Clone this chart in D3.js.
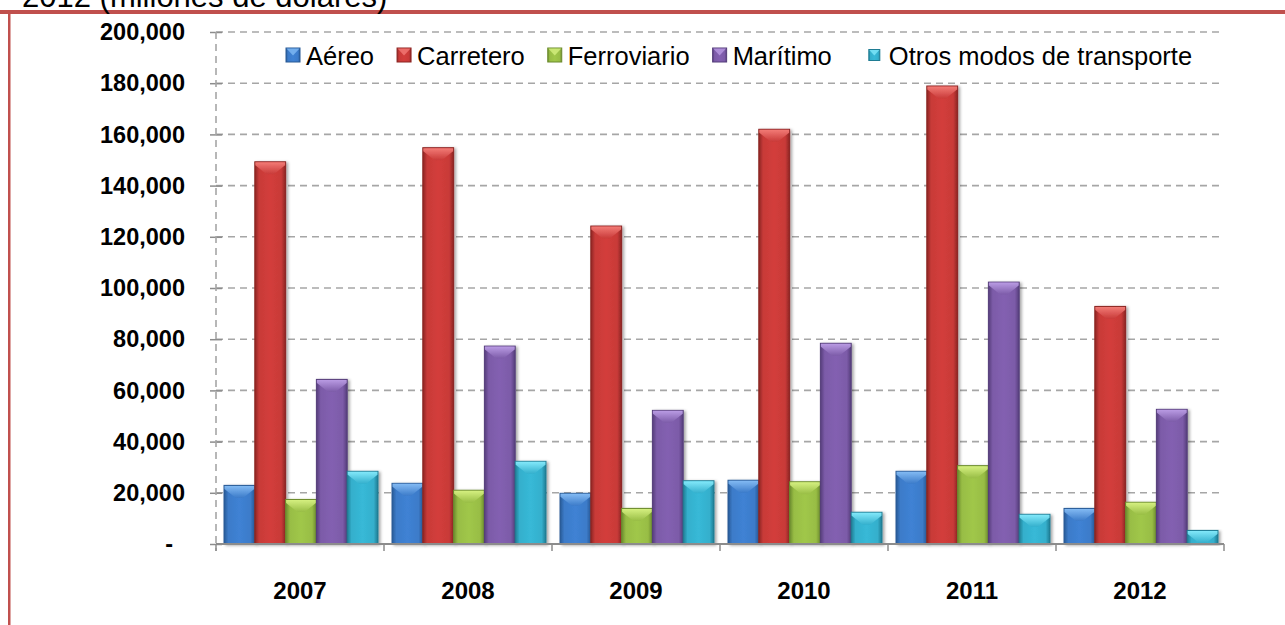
<!DOCTYPE html>
<html>
<head>
<meta charset="utf-8">
<script src="https://cdn.jsdelivr.net/npm/d3@7"></script>
<style>
    body { margin: 0; background: #fff; }
    svg { display: block; font-family: Arial, "Liberation Sans", sans-serif; }
</style>
</head>
<body>
<script>
(function() {

    // data (millones de dólares)
    var years = ["2007", "2008", "2009", "2010", "2011", "2012"];
    var modos = ["Aéreo", "Carretero", "Ferroviario", "Marítimo", "Otros modos de transporte"];
    var aereo = [22900, 23700, 19800, 24900, 28400, 13900];
    var carretero = [149300, 154800, 124200, 162000, 178900, 92800];
    var ferroviario = [17400, 21000, 13900, 24300, 30600, 16300];
    var maritimo = [64300, 77300, 52200, 78400, 102300, 52600];
    var otros = [28400, 32300, 24700, 12400, 11600, 5300];
    var yTicks = [0, 20000, 40000, 60000, 80000, 100000, 120000, 140000, 160000, 180000, 200000];

    var series = [aereo, carretero, ferroviario, maritimo, otros];

    // base / light / dark shade per series
    var colorBase = ["#3C7BC9", "#C83A38", "#98BD45", "#7C5BA8", "#34AFCC"];
    var colorLight = ["#86BDF5", "#F47E79", "#D8F283", "#BC9EE6", "#86EBFC"];
    var colorDark = ["#285A96", "#8C2523", "#6B8A2C", "#553D7A", "#1F7C93"];

    var width = 1285,
        height = 625,
        left = 216,
        top = 32,
        plotWidth = 1008,
        plotHeight = 512;

    var svg = d3.select("body")
        .append("svg")
        .attr("width", width)
        .attr("height", height);

    var defs = svg.append("defs");

    colorBase.forEach(function(c, i) {
        var g = defs.append("linearGradient")
            .attr("id", "grad" + i)
            .attr("x1", "0").attr("x2", "1").attr("y1", "0").attr("y2", "0");
        g.append("stop").attr("offset", "0%").attr("stop-color", colorDark[i]);
        g.append("stop").attr("offset", "14%").attr("stop-color", c);
        g.append("stop").attr("offset", "50%").attr("stop-color", d3.color(c).brighter(0.15));
        g.append("stop").attr("offset", "86%").attr("stop-color", c);
        g.append("stop").attr("offset", "100%").attr("stop-color", colorDark[i]);

        var t = defs.append("linearGradient")
            .attr("id", "top" + i)
            .attr("x1", "0").attr("x2", "0").attr("y1", "0").attr("y2", "1");
        t.append("stop").attr("offset", "0%").attr("stop-color", colorLight[i]);
        t.append("stop").attr("offset", "100%").attr("stop-color", c);
    });

    var shadow = defs.append("filter")
        .attr("id", "shadow")
        .attr("x", "-20%").attr("y", "-5%")
        .attr("width", "150%").attr("height", "115%");
    shadow.append("feDropShadow")
        .attr("dx", 2).attr("dy", 1)
        .attr("stdDeviation", 1.6)
        .attr("flood-color", "#000")
        .attr("flood-opacity", 0.35);

    // red frame
    svg.append("rect")
        .attr("x", 0).attr("y", 10)
        .attr("width", width).attr("height", 4)
        .attr("fill", "#C0504D");
    svg.append("rect")
        .attr("x", 8).attr("y", 10)
        .attr("width", 2.5).attr("height", height - 10)
        .attr("fill", "#C0504D");

    // title, cut by the top edge as in the source
    svg.append("text")
        .attr("x", 22)
        .attr("y", 7)
        .attr("font-size", "31px")
        .attr("fill", "#000")
        .text("2012 (millones de dólares)");

    var x0 = d3.scaleBand()
        .domain(years)
        .range([left, left + plotWidth]);

    var x1 = d3.scaleBand()
        .domain(d3.range(modos.length))
        .range([8, x0.bandwidth() - 6]);

    var y = d3.scaleLinear()
        .domain([0, 200000])
        .range([top + plotHeight, top]);

    // gridlines
    svg.append("g")
        .selectAll("line")
        .data(yTicks.filter(function(d) { return d > 0; }))
        .enter()
        .append("line")
        .attr("x1", left)
        .attr("x2", left + plotWidth)
        .attr("y1", function(d) { return y(d); })
        .attr("y2", function(d) { return y(d); })
        .attr("stroke", "#A6A6A6")
        .attr("stroke-width", 1.6)
        .attr("stroke-dasharray", "7,5");

    // y axis
    var yAxis = svg.append("g")
        .attr("transform", "translate(" + left + ",0)")
        .call(d3.axisLeft(y)
            .tickValues(yTicks)
            .tickSize(0)
            .tickPadding(31)
            .tickFormat(function(d) { return d === 0 ? "-" : d3.format(",")(d); }));
    yAxis.select(".domain").remove();
    yAxis.selectAll("text")
        .attr("font-family", "Arial, 'Liberation Sans', sans-serif")
        .attr("font-size", "23.5px")
        .attr("font-weight", "bold")
        .attr("fill", "#000")
        .attr("dy", "0.33em")
        .attr("dx", function(d) { return d === 0 ? -12 : 0; });
    yAxis.selectAll(".tick")
        .append("line")
        .attr("x1", -6).attr("x2", 6)
        .attr("stroke", "#8C8C8C")
        .attr("stroke-width", 1.5);
    svg.append("line")
        .attr("x1", left).attr("x2", left)
        .attr("y1", top).attr("y2", top + plotHeight + 7)
        .attr("stroke", "#A6A6A6")
        .attr("stroke-width", 1.6)
        .attr("stroke-dasharray", "7,5");

    // bars
    var groups = svg.append("g")
        .selectAll("g")
        .data(years)
        .enter()
        .append("g")
        .attr("transform", function(d) { return "translate(" + x0(d) + ",0)"; });

    var bars = groups.selectAll("g")
        .data(function(d, yi) {
            return series.map(function(s, si) { return { si: si, value: s[yi] }; });
        })
        .enter()
        .append("g")
        .attr("filter", "url(#shadow)");

    bars.append("rect")
        .attr("x", function(d) { return x1(d.si); })
        .attr("y", function(d) { return y(d.value); })
        .attr("width", x1.bandwidth())
        .attr("height", function(d) { return y(0) - y(d.value); })
        .attr("fill", function(d) { return "url(#grad" + d.si + ")"; })
        .attr("stroke", function(d) { return colorDark[d.si]; })
        .attr("stroke-width", 1);

    // chevron bevel on top of each bar
    bars.append("path")
        .attr("d", function(d) {
            var bx = x1(d.si) + 0.5,
                bw = x1.bandwidth() - 1,
                by = y(d.value) + 0.5,
                bh = Math.min(12, y(0) - y(d.value) - 1),
                side = Math.min(3, bh);
            return "M" + bx + "," + by +
                "L" + (bx + bw) + "," + by +
                "L" + (bx + bw) + "," + (by + side) +
                "L" + (bx + bw * 0.62) + "," + (by + bh) +
                "L" + (bx + bw * 0.38) + "," + (by + bh) +
                "L" + bx + "," + (by + side) + "Z";
        })
        .attr("fill", function(d) { return "url(#top" + d.si + ")"; })
        .attr("opacity", 0.95);

    // x axis
    var xAxis = svg.append("g")
        .attr("transform", "translate(0," + (top + plotHeight) + ")")
        .call(d3.axisBottom(x0).tickSize(0).tickPadding(38));
    xAxis.select(".domain").remove();
    xAxis.selectAll("text")
        .attr("font-family", "Arial, 'Liberation Sans', sans-serif")
        .attr("font-size", "24px")
        .attr("font-weight", "bold")
        .attr("fill", "#000");
    svg.append("line")
        .attr("x1", left).attr("x2", left + plotWidth)
        .attr("y1", y(0)).attr("y2", y(0))
        .attr("stroke", "#8C8C8C")
        .attr("stroke-width", 2);
    svg.append("g")
        .selectAll("line")
        .data(years.concat(["end"]))
        .enter()
        .append("line")
        .attr("x1", function(d, i) { return left + i * x0.bandwidth(); })
        .attr("x2", function(d, i) { return left + i * x0.bandwidth(); })
        .attr("y1", y(0))
        .attr("y2", y(0) + 7)
        .attr("stroke", "#8C8C8C")
        .attr("stroke-width", 1.5);

    // legend
    var legend = svg.append("g")
        .attr("transform", "translate(286,0)");
    var lx = 0;
    modos.forEach(function(m, i) {
        var item = legend.append("g")
            .attr("transform", "translate(" + lx + ",0)");
        var sq = i === 4 ? 11 : 14;
        var sqX = i === 4 ? 14 : 0;
        item.append("rect")
            .attr("x", sqX).attr("y", 56 - sq / 2 - 1)
            .attr("width", sq).attr("height", sq)
            .attr("fill", "url(#grad" + i + ")")
            .attr("stroke", colorDark[i])
            .attr("stroke-width", 1);
        item.append("path")
            .attr("d", "M" + (sqX + 0.5) + "," + (55.5 - sq / 2) +
                "L" + (sqX + sq - 0.5) + "," + (55.5 - sq / 2) +
                "L" + (sqX + sq / 2) + "," + (55.5) + "Z")
            .attr("fill", colorLight[i])
            .attr("opacity", 0.75);
        var txt = item.append("text")
            .attr("x", i === 4 ? 34 : 20)
            .attr("y", 65)
            .attr("font-size", "25.5px")
            .attr("fill", "#000")
            .text(m);
        lx += (i === 4 ? 34 : 20) + txt.node().getComputedTextLength() + 23;
    });

})();
</script>
</body>
</html>
